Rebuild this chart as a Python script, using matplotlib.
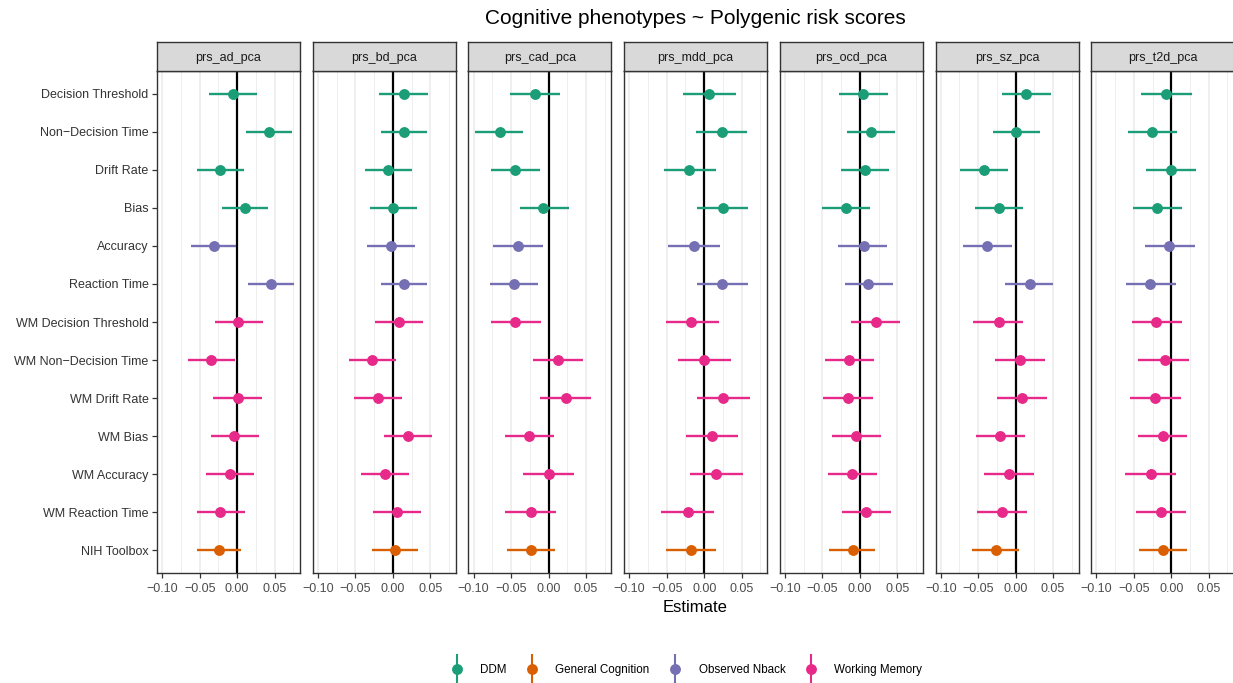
import matplotlib.pyplot as plt
from matplotlib.lines import Line2D
from matplotlib.legend_handler import HandlerTuple

plt.rcParams['font.family'] = ['Liberation Sans', 'DejaVu Sans']

measures = ['Decision Threshold', 'Non\u2212Decision Time', 'Drift Rate', 'Bias',
            'Accuracy', 'Reaction Time', 'WM Decision Threshold',
            'WM Non\u2212Decision Time', 'WM Drift Rate', 'WM Bias',
            'WM Accuracy', 'WM Reaction Time', 'NIH Toolbox']
groups = ['DDM', 'DDM', 'DDM', 'DDM', 'Observed Nback', 'Observed Nback',
          'Working Memory', 'Working Memory', 'Working Memory', 'Working Memory',
          'Working Memory', 'Working Memory', 'General Cognition']
prs_names = ['prs_ad_pca', 'prs_bd_pca', 'prs_cad_pca', 'prs_mdd_pca',
             'prs_ocd_pca', 'prs_sz_pca', 'prs_t2d_pca']

# estimate, lower and upper 95% CI per score
ad_est = [-0.0058, 0.0431, -0.0231, 0.0107, -0.0307, 0.0458, 0.0009, -0.0347, 0.0009, -0.0036, -0.0089, -0.0222, -0.0244]
ad_lo = [-0.0369, 0.0124, -0.0538, -0.0204, -0.0613, 0.0142, -0.0298, -0.0658, -0.0316, -0.0347, -0.0413, -0.0542, -0.0533]
ad_hi = [0.0267, 0.0733, 0.0089, 0.0409, -0.0009, 0.0760, 0.0342, -0.0027, 0.0329, 0.0289, 0.0227, 0.0107, 0.0053]

bd_est = [0.0147, 0.0147, -0.0067, 0.0009, -0.0027, 0.0156, 0.0080, -0.0280, -0.0196, 0.0204, -0.0098, 0.0062, 0.0031]
bd_lo = [-0.0178, -0.0160, -0.0378, -0.0298, -0.0342, -0.0164, -0.0236, -0.0591, -0.0520, -0.0111, -0.0422, -0.0271, -0.0276]
bd_hi = [0.0471, 0.0458, 0.0262, 0.0320, 0.0293, 0.0458, 0.0404, 0.0049, 0.0124, 0.0520, 0.0222, 0.0382, 0.0342]

cad_est = [-0.0182, -0.0653, -0.0453, -0.0067, -0.0413, -0.0462, -0.0444, 0.0124, 0.0231, -0.0258, 0.0000, -0.0236, -0.0236]
cad_lo = [-0.0516, -0.0982, -0.0773, -0.0387, -0.0747, -0.0787, -0.0773, -0.0204, -0.0107, -0.0582, -0.0338, -0.0582, -0.0556]
cad_hi = [0.0151, -0.0338, -0.0116, 0.0271, -0.0080, -0.0138, -0.0102, 0.0462, 0.0564, 0.0080, 0.0342, 0.0102, 0.0089]

mdd_est = [0.0062, 0.0240, -0.0204, 0.0249, -0.0133, 0.0236, -0.0178, 0.0000, 0.0253, 0.0102, 0.0156, -0.0213, -0.0178]
mdd_lo = [-0.0284, -0.0107, -0.0538, -0.0098, -0.0484, -0.0102, -0.0516, -0.0356, -0.0098, -0.0240, -0.0191, -0.0573, -0.0507]
mdd_hi = [0.0418, 0.0578, 0.0160, 0.0591, 0.0213, 0.0587, 0.0191, 0.0364, 0.0618, 0.0458, 0.0520, 0.0133, 0.0164]

ocd_est = [0.0044, 0.0151, 0.0062, -0.0182, 0.0049, 0.0102, 0.0213, -0.0147, -0.0156, -0.0049, -0.0102, 0.0080, -0.0098]
ocd_lo = [-0.0280, -0.0169, -0.0258, -0.0502, -0.0289, -0.0204, -0.0116, -0.0471, -0.0489, -0.0369, -0.0422, -0.0240, -0.0409]
ocd_hi = [0.0373, 0.0467, 0.0382, 0.0133, 0.0364, 0.0436, 0.0533, 0.0191, 0.0169, 0.0276, 0.0222, 0.0409, 0.0204]

sz_est = [0.0138, 0.0000, -0.0427, -0.0218, -0.0378, 0.0187, -0.0227, 0.0062, 0.0089, -0.0204, -0.0084, -0.0182, -0.0262]
sz_lo = [-0.0187, -0.0302, -0.0738, -0.0542, -0.0698, -0.0138, -0.0564, -0.0271, -0.0244, -0.0524, -0.0422, -0.0511, -0.0578]
sz_hi = [0.0471, 0.0324, -0.0102, 0.0093, -0.0053, 0.0498, 0.0093, 0.0391, 0.0413, 0.0120, 0.0240, 0.0151, 0.0040]

t2d_est = [-0.0067, -0.0262, 0.0000, -0.0187, -0.0027, -0.0280, -0.0200, -0.0089, -0.0213, -0.0116, -0.0267, -0.0133, -0.0111]
t2d_lo = [-0.0400, -0.0573, -0.0333, -0.0507, -0.0356, -0.0600, -0.0524, -0.0440, -0.0547, -0.0440, -0.0613, -0.0476, -0.0431]
t2d_hi = [0.0271, 0.0076, 0.0333, 0.0138, 0.0320, 0.0058, 0.0142, 0.0231, 0.0129, 0.0213, 0.0062, 0.0200, 0.0209]

panels = [(ad_est, ad_lo, ad_hi), (bd_est, bd_lo, bd_hi), (cad_est, cad_lo, cad_hi),
          (mdd_est, mdd_lo, mdd_hi), (ocd_est, ocd_lo, ocd_hi), (sz_est, sz_lo, sz_hi),
          (t2d_est, t2d_lo, t2d_hi)]

colors = {'DDM': '#1B9E77', 'General Cognition': '#D95F02',
          'Observed Nback': '#7570B3', 'Working Memory': '#E7298A'}

W, H = 1233, 683
fig = plt.figure(figsize=(W / 100, H / 100), dpi=100)

# panel geometry in pixels
left0, pw, step = 157, 143, 155.7
top, bottom, strip_h = 71, 573, 29

n = len(measures)
ypos = [n - i for i in range(n)]
xticks = [-0.10, -0.05, 0.00, 0.05]
minor = [-0.075, -0.025, 0.025, 0.075]

for k, (est, lo, hi) in enumerate(panels):
    x0 = left0 + k * step
    ax = fig.add_axes([x0 / W, 1 - bottom / H, pw / W, (bottom - top) / H])
    ax.set_xlim(-0.107, 0.084)
    ax.set_ylim(0.4, n + 0.6)
    for g in minor:
        ax.axvline(g, color='#EBEBEB', lw=0.6, zorder=0)
    for g in xticks:
        ax.axvline(g, color='#EBEBEB', lw=1.1, zorder=0)
    ax.axvline(0, color='black', lw=1.6, zorder=1)
    for i in range(n):
        c = colors[groups[i]]
        ax.hlines(ypos[i], lo[i], hi[i], color=c, lw=1.7, zorder=2)
        ax.plot(est[i], ypos[i], 'o', color=c, ms=6.8, zorder=3)
    ax.set_xticks(xticks)
    ax.set_xticklabels(['\u22120.10', '\u22120.05', '0.00', '0.05'])
    ax.set_yticks(ypos)
    ax.tick_params(axis='both', labelsize=9, colors='#333333',
                   labelcolor='#4D4D4D', width=0.9, length=3.5, pad=3.5)
    ax.tick_params(axis='y', labelcolor='#333333', pad=2.5)
    if k == 0:
        ax.set_yticklabels(measures)
    else:
        ax.set_yticklabels([])
        ax.tick_params(axis='y', length=0)
    for s in ax.spines.values():
        s.set_color('#333333')
        s.set_linewidth(1.0)

    # facet strip
    sx = fig.add_axes([x0 / W, 1 - top / H, pw / W, strip_h / H])
    sx.set_facecolor('#D9D9D9')
    sx.set_xticks([])
    sx.set_yticks([])
    for s in sx.spines.values():
        s.set_color('#333333')
        s.set_linewidth(1.0)
    sx.text(0.5, 0.46, prs_names[k], ha='center', va='center', fontsize=9,
            color='#1A1A1A', transform=sx.transAxes)

fig.text(695 / W, 1 - 19 / H, 'Cognitive phenotypes ~ Polygenic risk scores',
         ha='center', va='center', fontsize=15)
fig.text(695 / W, 1 - 608 / H, 'Estimate', ha='center', va='center', fontsize=12)

handles = []
for g in colors:
    bar = Line2D([], [], marker='|', ms=21, mew=1.5, color=colors[g], ls='none')
    dot = Line2D([], [], marker='o', ms=6.8, color=colors[g], ls='none')
    handles.append((bar, dot))
fig.legend(handles, list(colors), handler_map={tuple: HandlerTuple(ndivide=1)},
           loc='center', bbox_to_anchor=(686 / W, 1 - 670 / H), ncol=4,
           frameon=False, fontsize=8.4, handlelength=1.2, columnspacing=1.6,
           handletextpad=1.4)

fig.savefig('out.png', dpi=100)
